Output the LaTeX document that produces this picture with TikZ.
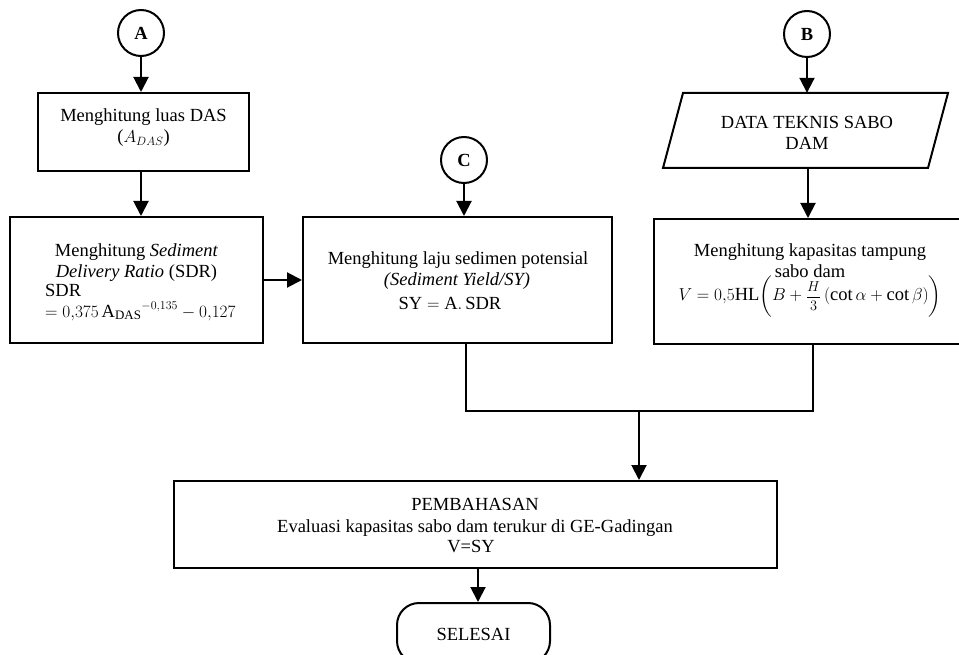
\documentclass[tikz,border=0pt]{standalone}
\usepackage{amsmath}
\usepackage{fontspec}
\setmainfont{Liberation Serif}
\usetikzlibrary{arrows.meta,calc}
\tikzset{
  box/.style={draw,line width=2pt,rectangle,inner sep=0pt},
  conn/.style={draw,line width=2pt,circle,inner sep=0pt,minimum size=46pt,font=\fontsize{18.5}{21}\selectfont\bfseries},
  txt/.style={anchor=base,inner sep=0pt,font=\fontsize{18.5}{21}\selectfont},
  txtl/.style={anchor=base west,inner sep=0pt,font=\fontsize{18.5}{21}\selectfont},
  line/.style={line width=2pt},
  arr/.style={line width=2pt,-{Triangle[length=15pt,width=15pt]}},
  term/.style={draw,line width=2pt,rectangle,rounded corners=22pt,inner sep=0pt}
}
\newcommand{\smallfrac}[2]{\mbox{\fontsize{15}{18}\selectfont$\dfrac{#1}{#2}$}}
\begin{document}
\begin{tikzpicture}[x=1pt,y=-1pt]
\useasboundingbox (0,0) rectangle (959,655);
% connectors circles
\node[conn] (A) at (141,33) {A};
\node[conn] (B) at (807,34) {B};
\node[conn] (C) at (464,160) {C};
% boxes
\node[box,minimum width=211pt,minimum height=78pt] (box1) at (143.5,132) {};
\node[box,minimum width=253pt,minimum height=126pt] (box2) at (136.5,280) {};
\node[box,minimum width=309pt,minimum height=126pt] (box3) at (457.5,280) {};
\node[box,minimum width=308pt,minimum height=125pt] (box4) at (808,281.5) {};
\node[box,minimum width=603pt,minimum height=87pt] (box5) at (475.5,524.5) {};
\node[term,minimum width=153pt,minimum height=60pt] (end) at (473.5,633) {};
% parallelogram
\node[inner sep=0pt,minimum width=245pt,minimum height=75pt] (data) at (808,130.5) {};
\draw[line,line join=miter] (683,93) -- (948,93) -- (928,168) -- (663,168) -- cycle;
% texts
\node[txt] (t1a) at (143.5,122) {Menghitung luas DAS};
\node[txt] (t1b) at (143.5,143) {($A_{DAS}$)};
\node[txt] (t2a) at (136.5,257) {Menghitung \textit{Sediment}};
\node[txt] (t2b) at (136.5,278) {\textit{Delivery Ratio} (SDR)};
\node[txtl] (t2c) at (45,297) {$\mathrm{SDR}$};
\node[txtl] (t2d) at (45,317) {$=0{,}375\,\mathrm{A_{DAS}}^{-0{,}135}-0{,}127$};
\node[txt] (t3a) at (458,265) {Menghitung laju sedimen potensial};
\node[txt] (t3b) at (457,286) {\textit{(Sediment Yield/SY)}};
\node[txt] (t3c) at (450,309) {$\mathrm{SY}=\mathrm{A.\,SDR}$};
\node[txt] (t4a) at (810,257) {Menghitung kapasitas tampung};
\node[txt] (t4b) at (810,277) {sabo dam};
\node[txt] (t4c) at (810,301) {$V=0{,}5\mathrm{HL}\biggl(B+\smallfrac{H}{3}\left(\cot\alpha+\cot\beta\right)\biggr)$};
\node[txt] (t5a) at (475,510) {PEMBAHASAN};
\node[txt] (t5b) at (475,532) {Evaluasi kapasitas sabo dam terukur di GE-Gadingan};
\node[txt] (t5c) at (471,552) {V=SY};
\node[txt] (t6) at (473.5,640) {SELESAI};
\node[txt] (td1) at (807,129) {DATA TEKNIS SABO};
\node[txt] (td2) at (807,150) {DAM};
% connectors
\draw[arr] (A) -- (A |- box1.north);
\draw[arr] (box1.south -| A) -- (box2.north -| A);
\draw[arr] (box2.east) -- (box3.west);
\draw[arr] (C) -- (C |- box3.north);
\draw[arr] (B) -- (B |- data.north);
\draw[arr] (data.south) -- (box4.north);
\coordinate (m1) at (466,411);
\coordinate (m2) at (813,411);
\coordinate (m3) at (639,411);
\coordinate (e1) at (478,0);
\draw[line] (box3.south -| m1) -- (m1) -- (m2) -- (box4.south -| m2);
\draw[arr] (m3) -- (box5.north -| m3);
\draw[arr] (box5.south -| e1) -- (end.north -| e1);
\end{tikzpicture}
\end{document}
